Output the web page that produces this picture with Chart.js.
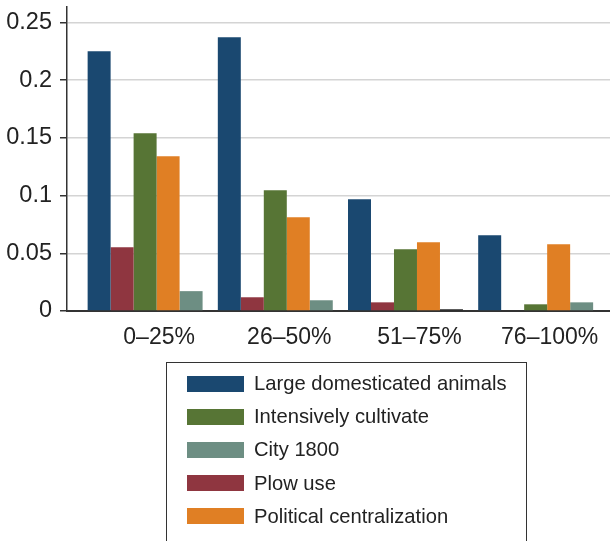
<!DOCTYPE html>
<html>
<head>
<meta charset="utf-8">
<script src="https://cdn.jsdelivr.net/npm/chart.js@4.4.1/dist/chart.umd.min.js"></script>
<style>
  body { margin: 0; background: #fff; }
  #wrap { position: relative; width: 610px; height: 541px; overflow: hidden; }
  #legend {
    position: absolute; left: 166px; top: 362px; width: 361px; height: 200px;
    border: 1.5px solid #333; box-sizing: border-box; padding-top: 4px;
    font-family: 'Liberation Sans', Arial, sans-serif; font-size: 20.2px; color: #222;
  }
  .item { display: flex; align-items: center; height: 33.2px; padding-left: 20px; }
  .swatch { width: 57px; height: 16px; margin-right: 10px; }
</style>
</head>
<body>
<div id="wrap">
  <canvas id="chart" width="610" height="541"></canvas>
  <div id="legend"></div>
</div>
<script>
const categories = ['0–25%', '26–50%', '51–75%', '76–100%'];

const largeAnimals = [0.2250, 0.2372, 0.0968, 0.0656];
const plowUse = [0.0553, 0.0119, 0.0075, 0];
const intensive = [0.1540, 0.1046, 0.0535, 0.0058];
const political = [0.1340, 0.0812, 0.0595, 0.0578];
const city1800 = [0.0172, 0.0093, 0.0015, 0.0075];

const yTicks = [0, 0.05, 0.1, 0.15, 0.2, 0.25];
const yTickLabels = ['0', '0.05', '0.1', '0.15', '0.2', '0.25'];

const legendOrder = ['Large domesticated animals', 'Intensively cultivate', 'City 1800', 'Plow use', 'Political centralization'];

const FONT = "'Liberation Sans', Arial, sans-serif";

const toPoints = (arr) => arr.map((v, i) => ({ x: i + 1, y: v }));

const htmlLegend = {
  id: 'htmlLegend',
  afterUpdate(chart) {
    const box = document.getElementById('legend');
    box.innerHTML = '';
    legendOrder.forEach((name) => {
      const ds = chart.data.datasets.find((d) => d.label === name);
      const row = document.createElement('div');
      row.className = 'item';
      const sw = document.createElement('span');
      sw.className = 'swatch';
      sw.style.background = Array.isArray(ds.backgroundColor) ? ds.backgroundColor[0] : ds.backgroundColor;
      const txt = document.createElement('span');
      txt.textContent = name;
      row.appendChild(sw);
      row.appendChild(txt);
      box.appendChild(row);
    });
  },
};

const data = {
  datasets: [
    { label: 'Large domesticated animals', data: toPoints(largeAnimals), backgroundColor: '#1a4870' },
    { label: 'Plow use', data: toPoints(plowUse), backgroundColor: '#8f3640' },
    { label: 'Intensively cultivate', data: toPoints(intensive), backgroundColor: '#577535' },
    { label: 'Political centralization', data: toPoints(political), backgroundColor: '#e07f24' },
    { label: 'City 1800', data: toPoints(city1800), backgroundColor: ['#6d8e83', '#6d8e83', '#222222', '#6d8e83'] },
  ],
};

const config = {
  type: 'bar',
  data: data,
  plugins: [htmlLegend],
  options: {
    responsive: false,
    animation: false,
    layout: {
      padding: { top: 7, right: 0, bottom: 190, left: 0 },
    },
    datasets: {
      bar: {
        categoryPercentage: 0.883,
        barPercentage: 1,
        borderWidth: 0,
      },
    },
    plugins: {
      legend: { display: false },
      tooltip: { enabled: false },
    },
    scales: {
      x: {
        type: 'linear',
        min: 0.4,
        max: 4.571,
        offset: false,
        afterBuildTicks: (scale) => {
          scale.ticks = categories.map((c, i) => ({ value: i + 1 }));
        },
        afterFit: (scale) => {
          scale.height = 40;
          scale.paddingLeft = 0;
          scale.paddingRight = 0;
        },
        grid: { display: false, drawTicks: false },
        border: { display: true, color: '#333', width: 2 },
        ticks: {
          callback: (value, index) => categories[index],
          labelOffset: 14,
          padding: 13,
          maxRotation: 0,
          autoSkip: false,
          color: '#222',
          font: { family: FONT, size: 23 },
        },
      },
      y: {
        min: 0,
        max: 0.2634,
        afterBuildTicks: (scale) => {
          scale.ticks = yTicks.map((v) => ({ value: v }));
        },
        afterFit: (scale) => {
          scale.width = 67;
          scale.paddingTop = 0;
          scale.paddingBottom = 0;
        },
        grid: {
          color: (ctx) => (ctx.tick && ctx.tick.value === 0 ? 'rgba(0,0,0,0)' : '#d4d4d4'),
          lineWidth: 1.5,
          tickLength: 7,
          tickColor: '#333',
          tickWidth: 1.5,
        },
        border: { display: true, color: '#333', width: 1.5 },
        ticks: {
          callback: (value, index) => yTickLabels[index],
          padding: 8,
          color: '#222',
          font: { family: FONT, size: 23.5 },
        },
      },
    },
  },
};

new Chart(document.getElementById('chart'), config);
</script>
</body>
</html>
